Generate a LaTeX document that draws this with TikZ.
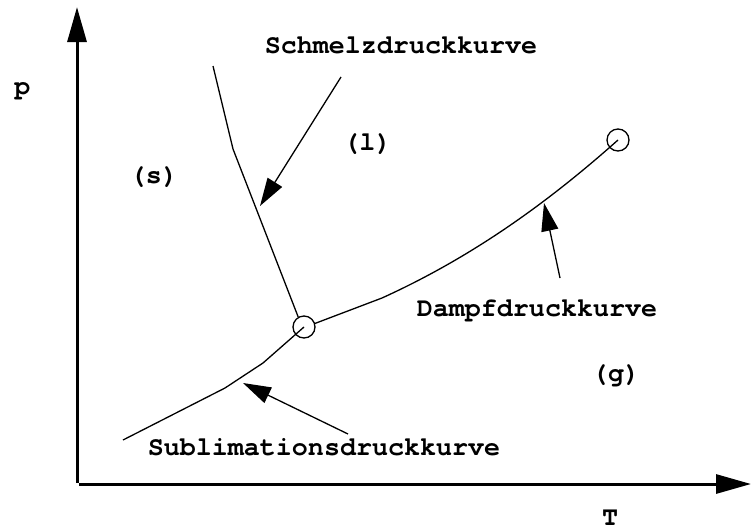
\documentclass[tikz,border=0pt]{standalone}
\usepackage{fontspec}
\usetikzlibrary{arrows.meta}
\newfontfamily\courfont{TeX Gyre Cursor}
\begin{document}
\begin{tikzpicture}[x=1pt,y=-1pt,
  lbl/.style={font=\courfont\bfseries\fontsize{26.7}{30}\selectfont, inner sep=0pt, anchor=base},
  axis/.style={line width=3pt, -{Triangle[length=35pt,width=19pt]}},
  curve/.style={line width=1.3pt, line join=round},
  pointer/.style={line width=1.3pt, -{Triangle[length=28pt,width=17pt]}},
  pt/.style={circle, draw, line width=1.3pt, minimum size=22pt, inner sep=0pt}]
\useasboundingbox (0,0) rectangle (751,530);
% axes
\coordinate (yb) at (77,483);
\coordinate (yt) at (77,7);
\coordinate (xl) at (79,484);
\coordinate (xr) at (751,484);
\draw[axis] (yb) -- (yt);
\draw[axis] (xl) -- (xr);
% special points
\node[pt] (tp) at (304,327) {};
\node[pt] (cp) at (618,140) {};
% curves
\coordinate (m0) at (213,66);
\coordinate (m1) at (233,149);
\draw[curve] (m0) -- (m1) -- (tp.120);
\coordinate (s1) at (263,363);
\coordinate (s2) at (225,388);
\coordinate (s3) at (123,440);
\draw[curve] (tp.center) -- (s1) -- (s2) -- (s3);
\coordinate (d1) at (382,298);
\draw[curve] (tp.18) -- (d1) .. controls (470,258) and (545,205) .. (cp.center);
% labels
\node[lbl] (p) at (22.5,94) {p};
\node[lbl] (T) at (610,525.5) {T};
\node[lbl] (sol) at (154,183) {(s)};
\node[lbl] (liq) at (367.5,150) {(l)};
\node[lbl] (gas) at (616,381) {(g)};
\node[lbl] (schm) at (401,53) {Schmelzdruckkurve};
\node[lbl] (damp) at (537,316) {Dampfdruckkurve};
\node[lbl] (subl) at (324,455) {Sublimationsdruckkurve};
% pointers
\coordinate (a1s) at (341,77);
\coordinate (a1e) at (260,206);
\draw[pointer] (a1s) -- (a1e);
\coordinate (a2s) at (560,278);
\coordinate (a2e) at (544,203);
\draw[pointer] (a2s) -- (a2e);
\coordinate (a3s) at (348,434);
\coordinate (a3e) at (243,383);
\draw[pointer] (a3s) -- (a3e);
\end{tikzpicture}
\end{document}
